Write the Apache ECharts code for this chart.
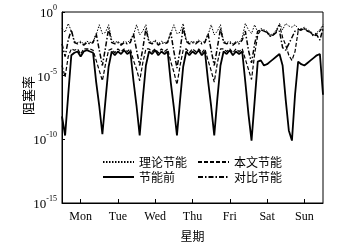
<!DOCTYPE html>
<html>
<head>
<meta charset="utf-8">
<script src="https://cdn.jsdelivr.net/npm/echarts@6.0.0/dist/echarts.min.js"></script>
<style>
  html, body { margin: 0; padding: 0; background: #fff; }
  #chart { width: 358px; height: 243px; }
</style>
</head>
<body>
<div id="chart"></div>
<script>
// log10 of the blocking rate, one value every 2 hours, Mon 0:00 .. Sun 24:00
var theoryExp = [
  -1.3, -1.6, -0.9, -1.5, -2.3, -2.4, -2.3, -2.5, -2.3, -2.4, -2.3, -1.8,
  -1.0, -1.7, -1.6, -1.0, -2.2, -2.4, -2.3, -2.5, -2.3, -2.4, -2.2, -1.8,
  -1.0, -1.8, -1.5, -1.0, -2.3, -2.4, -2.2, -2.5, -2.3, -2.4, -2.3, -1.7,
  -1.0, -1.7, -1.6, -0.9, -2.2, -2.4, -2.3, -2.4, -2.2, -2.4, -2.3, -1.8,
  -1.0, -1.8, -1.5, -1.0, -2.3, -2.4, -2.3, -2.5, -2.3, -2.4, -2.0, -0.9,
  -1.4, -1.7, -1.0, -1.6, -1.3, -1.4, -1.5, -1.8, -1.7, -1.4, -0.9, -1.4,
  -0.9, -1.1, -1.2, -1.0, -1.3, -1.3, -1.2, -1.4, -1.5, -1.8, -1.6, -1.4,
  -1.0
];
var oursExp = [
  -4.2, -5.1, -3.5, -2.9, -3.0, -2.9, -3.3, -2.9, -2.9, -2.9, -3.0, -3.8,
  -4.6, -5.4, -4.1, -3.0, -2.9, -3.2, -2.9, -3.1, -2.9, -3.1, -2.9, -3.8,
  -4.5, -5.4, -4.0, -2.9, -2.9, -3.1, -2.9, -3.2, -2.9, -3.1, -2.9, -3.9,
  -4.7, -5.7, -4.2, -3.0, -2.9, -3.2, -2.9, -3.1, -2.9, -3.2, -2.9, -3.8,
  -4.6, -5.5, -4.0, -2.9, -2.9, -3.1, -2.9, -3.2, -2.9, -3.1, -2.9, -3.7,
  -4.5, -5.3, -3.3, -1.8, -1.4, -1.5, -1.6, -1.9, -1.8, -1.5, -1.0, -2.0,
  -2.6, -3.4, -3.8, -3.1, -1.5, -1.4, -1.3, -1.5, -1.6, -1.9, -1.7, -1.5,
  -1.1
];
var beforeExp = [
  -8.2, -9.7, -6.5, -3.4, -3.2, -3.1, -3.5, -3.1, -3.0, -3.1, -3.2, -5.5,
  -7.4, -9.6, -6.9, -4.3, -3.1, -3.4, -3.1, -3.3, -3.0, -3.3, -3.1, -5.4,
  -7.4, -9.7, -6.8, -4.2, -3.1, -3.3, -3.0, -3.4, -3.1, -3.3, -3.1, -5.5,
  -7.5, -9.7, -6.9, -4.3, -3.1, -3.4, -3.1, -3.3, -3.0, -3.4, -3.1, -5.4,
  -7.4, -9.7, -6.8, -4.2, -3.1, -3.3, -3.0, -3.4, -3.1, -3.3, -3.1, -5.5,
  -8.0, -10.1, -7.0, -3.9, -3.8, -4.2, -4.1, -3.9, -3.7, -3.5, -3.3, -4.2,
  -6.9, -9.3, -10.1, -6.5, -3.9, -4.1, -4.2, -4.0, -3.8, -3.6, -3.4, -3.3,
  -6.5
];
var compareExp = [
  -2.5, -3.5, -2.2, -1.4, -2.4, -2.5, -2.4, -2.6, -2.4, -2.5, -2.4, -1.7,
  -3.0, -4.2, -2.8, -1.3, -2.4, -2.5, -2.4, -2.6, -2.4, -2.5, -2.4, -1.7,
  -3.0, -4.2, -2.9, -1.3, -2.4, -2.5, -2.3, -2.6, -2.4, -2.5, -2.4, -1.6,
  -3.1, -4.4, -3.0, -1.2, -2.3, -2.5, -2.4, -2.5, -2.3, -2.5, -2.4, -1.7,
  -3.0, -4.2, -2.8, -1.3, -2.4, -2.5, -2.4, -2.6, -2.4, -2.5, -2.2, -1.5,
  -3.0, -4.0, -2.5, -1.5, -1.4, -1.5, -1.6, -1.9, -1.8, -1.6, -1.5, -2.8,
  -3.0, -2.5, -2.0, -1.5, -1.4, -1.4, -1.3, -1.5, -1.6, -1.9, -1.8, -2.2,
  -1.3
];
var days = ['Mon', 'Tue', 'Wed', 'Thu', 'Fri', 'Sat', 'Sun'];
var dayTicks = [12, 36, 60, 84, 108, 132, 156];

function toPoints(exps) {
  return exps.map(function (e, i) { return [i * 2, Math.pow(10, e)]; });
}

var serif = 'Liberation Serif';
var cjk = 'Noto Sans CJK SC';

function line(name, exps, type, width) {
  return {
    name: name,
    type: 'line',
    symbol: 'none',
    data: toPoints(exps),
    lineStyle: { color: '#000', width: width, type: type },
    itemStyle: { color: '#000' }
  };
}

function legendBlock(left, names) {
  return {
    left: left, top: 156, padding: 0, orient: 'vertical',
    itemWidth: 31, itemHeight: 12, itemGap: 3,
    data: names,
    itemStyle: { opacity: 0 },
    textStyle: { fontFamily: cjk, fontSize: 12, lineHeight: 12, color: '#000' }
  };
}

var myChart = echarts.init(document.getElementById('chart'));
myChart.setOption({
  animation: false,
  grid: {
    left: 62, right: 35, top: 12, bottom: 40,
    outerBoundsMode: 'none',
    show: true, borderColor: '#000', borderWidth: 1
  },
  legend: [
    legendBlock(102, ['理论节能', '节能前']),
    legendBlock(197, ['本文节能', '对比节能'])
  ],
  xAxis: {
    type: 'value',
    min: 0,
    max: 168,
    name: '星期',
    nameLocation: 'middle',
    nameGap: 27,
    nameMoveOverlap: false,
    nameTextStyle: { fontFamily: cjk, fontSize: 12, color: '#000' },
    axisLine: { lineStyle: { color: '#000' } },
    axisTick: { inside: true, length: 4, customValues: dayTicks, lineStyle: { color: '#000' } },
    axisLabel: {
      customValues: dayTicks,
      fontFamily: serif, fontSize: 12, color: '#000', margin: 8,
      formatter: function (v) { return days[Math.round((v - 12) / 24)]; }
    },
    splitLine: { show: false }
  },
  yAxis: {
    type: 'log',
    logBase: 10,
    min: 1e-15,
    max: 1,
    interval: 5,
    name: '阻塞率',
    nameLocation: 'middle',
    nameRotate: 90,
    nameGap: 27,
    nameMoveOverlap: false,
    nameTextStyle: { fontFamily: cjk, fontSize: 13, color: '#000', padding: [0, 0, 0, 24] },
    axisLine: { show: true, lineStyle: { color: '#000' } },
    axisTick: { show: true, inside: true, length: 3, lineStyle: { color: '#000' } },
    axisLabel: {
      margin: 5,
      formatter: function (v) {
        return '{b|10}{s|' + Math.round(Math.log10(v)) + '}';
      },
      rich: {
        b: { fontFamily: serif, fontSize: 13, lineHeight: 16, verticalAlign: 'bottom', color: '#000' },
        s: { fontFamily: serif, fontSize: 8, lineHeight: 9, verticalAlign: 'top', color: '#000' }
      }
    },
    splitLine: { show: false },
    minorTick: { show: false }
  },
  series: [
    line('理论节能', theoryExp, [1.5, 1.5], 1),
    line('本文节能', oursExp, [4, 2], 1.2),
    line('节能前', beforeExp, 'solid', 1.8),
    line('对比节能', compareExp, [5, 2, 1.5, 2], 1.5)
  ]
});
</script>
</body>
</html>
